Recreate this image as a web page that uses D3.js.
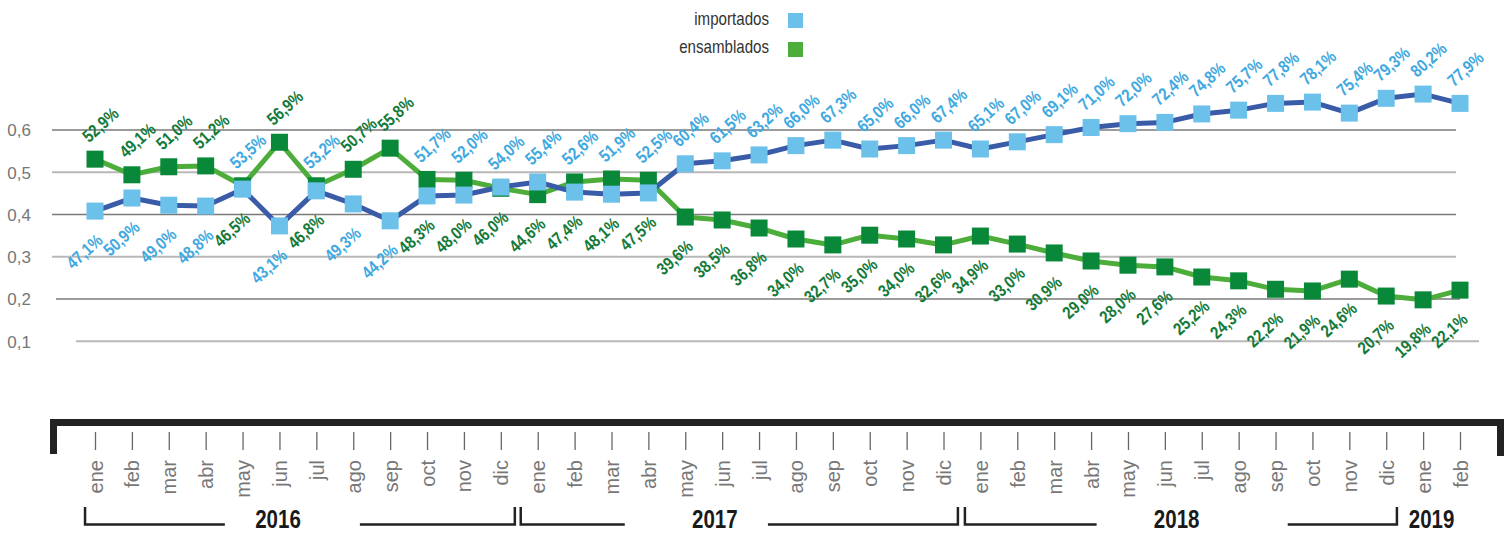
<!DOCTYPE html>
<html>
<head>
<meta charset="utf-8">
<script src="https://cdn.jsdelivr.net/npm/d3@7"></script>
<style>
  html, body { margin: 0; padding: 0; background: #fff; }
  svg { display: block; }
</style>
</head>
<body>
<svg id="chart" width="1506" height="533"></svg>
<script>
// ---------- DATA ----------
const monthNames = ["ene","feb","mar","abr","may","jun","jul","ago","sep","oct","nov","dic"];
const years = ["2016","2017","2018","2019"];
const monthsPerYear = [12, 12, 12, 2];

const seriesNames = ["importados", "ensamblados"];

// plotted values (as drawn on the chart)
const importadosValues = [0.408,0.439,0.422,0.420,0.460,0.373,0.456,0.425,0.385,0.444,0.446,0.465,
                          0.477,0.453,0.448,0.451,0.520,0.527,0.541,0.563,0.576,0.555,0.563,0.576,
                          0.555,0.572,0.589,0.606,0.615,0.618,0.638,0.647,0.663,0.666,0.640,0.675,
                          0.685,0.663];
const ensambladosValues = [0.531,0.494,0.513,0.515,0.468,0.571,0.468,0.507,0.557,0.483,0.481,0.462,
                           0.447,0.477,0.484,0.481,0.394,0.387,0.368,0.342,0.328,0.351,0.342,0.328,
                           0.349,0.330,0.309,0.290,0.280,0.276,0.252,0.243,0.223,0.219,0.247,0.207,
                           0.198,0.221];

// data labels (percent shares)
const importadosLabels = [47.1,50.9,49.0,48.8,53.5,43.1,53.2,49.3,44.2,51.7,52.0,54.0,
                          55.4,52.6,51.9,52.5,60.4,61.5,63.2,66.0,67.3,65.0,66.0,67.4,
                          65.1,67.0,69.1,71.0,72.0,72.4,74.8,75.7,77.8,78.1,75.4,79.3,
                          80.2,77.9];
const ensambladosLabels = [52.9,49.1,51.0,51.2,46.5,56.9,46.8,50.7,55.8,48.3,48.0,46.0,
                           44.6,47.4,48.1,47.5,39.6,38.5,36.8,34.0,32.7,35.0,34.0,32.6,
                           34.9,33.0,30.9,29.0,28.0,27.6,25.2,24.3,22.2,21.9,24.6,20.7,
                           19.8,22.1];

const yTicks = [0.1, 0.2, 0.3, 0.4, 0.5, 0.6];

// ---------- BUILD TABLE ----------
const rows = [];
years.forEach((yr, yi) => {
  for (let m = 0; m < monthsPerYear[yi]; m++) {
    rows.push({ year: yr, month: monthNames[m] });
  }
});
rows.forEach((r, i) => {
  r.i = i;
  r.imp = importadosValues[i];
  r.ens = ensambladosValues[i];
  r.impLab = importadosLabels[i];
  r.ensLab = ensambladosLabels[i];
});

// ---------- STYLE ----------
const C = {
  impLine: "#3A5CA8", impMark: "#6CC1EB", impText: "#3FA9E0",
  ensLine: "#4CAD3A", ensMark: "#0A883A", ensText: "#137A3A",
  gridDark: "#7a7a7a", gridLight: "#b8b8b8", axisText: "#777"
};
const sans = "'Liberation Sans',Arial,sans-serif";
const svg = d3.select("#chart");

const x = d3.scalePoint().domain(d3.range(rows.length)).range([95, 1460]);
const y = d3.scaleLinear().domain([0, 0.6]).range([383.5, 130]);
const step = x.step();
const xi = v => x(0) + v * step;   // fractional index position

// ---------- GRID ----------
const grid = svg.append("g");
yTicks.forEach(t => {
  const k = Math.round(t * 10);
  const light = k % 2 === 1;
  let x1 = 52, x2 = 1456;
  if (k === 2) { x1 = 56; x2 = 1460; }
  if (k === 1) { x1 = 76; x2 = 1479; }
  grid.append("line")
    .attr("x1", x1).attr("x2", x2)
    .attr("y1", y(t)).attr("y2", y(t))
    .attr("stroke", light ? C.gridLight : C.gridDark)
    .attr("stroke-width", light ? 2 : 1.3);
});
const yAxis = d3.axisLeft(y).tickValues(yTicks).tickSize(0)
  .tickFormat(d => d3.format(".1f")(d).replace(".", ","));
const ya = svg.append("g").attr("transform", "translate(31,0)").call(yAxis);
ya.select(".domain").remove();
ya.selectAll("text").attr("x", 0).attr("dy", "0.35em")
  .style("font-family", sans)
  .style("font-size", "17px").attr("fill", C.axisText);

// ---------- LINES ----------
const lineImp = d3.line().x(d => x(d.i)).y(d => y(d.imp));
const lineEns = d3.line().x(d => x(d.i)).y(d => y(d.ens));
svg.append("path").datum(rows).attr("d", lineEns)
  .attr("fill", "none").attr("stroke", C.ensLine).attr("stroke-width", 5).attr("stroke-linejoin", "round");
svg.append("path").datum(rows).attr("d", lineImp)
  .attr("fill", "none").attr("stroke", C.impLine).attr("stroke-width", 5).attr("stroke-linejoin", "round");

const ms = 17;
svg.append("g").selectAll("rect").data(rows).join("rect")
  .attr("x", d => x(d.i) - ms / 2).attr("y", d => y(d.ens) - ms / 2)
  .attr("width", ms).attr("height", ms).attr("fill", C.ensMark);
svg.append("g").selectAll("rect").data(rows).join("rect")
  .attr("x", d => x(d.i) - ms / 2).attr("y", d => y(d.imp) - ms / 2)
  .attr("width", ms).attr("height", ms).attr("fill", C.impMark);

// ---------- DATA LABELS ----------
const fmtPct = v => d3.format(".1f")(v).replace(".", ",") + "%";
const angle = -42;
function addLabels(labKey, color, aboveTest) {
  svg.append("g").selectAll("text").data(rows).join("text")
    .attr("transform", d => {
      const above = aboveTest(d[labKey]);
      const top = Math.min(y(d.imp), y(d.ens));
      const bot = Math.max(y(d.imp), y(d.ens));
      const px = above ? x(d.i) - 6 : x(d.i) + 9;
      const py = above ? top - 16 : bot + 31;
      return `translate(${px},${py}) rotate(${angle}) scale(0.84,1)`;
    })
    .attr("text-anchor", d => aboveTest(d[labKey]) ? "start" : "end")
    .style("font-family", sans)
    .style("font-size", "17.5px")
    .style("font-weight", "bold")
    .attr("fill", color)
    .text(d => fmtPct(d[labKey]));
}
addLabels("impLab", C.impText, v => v > 51);
addLabels("ensLab", C.ensText, v => v > 49);

// ---------- LEGEND ----------
const legend = svg.append("g");
[[seriesNames[0], C.impMark, 25, 13], [seriesNames[1], C.ensLine, 53, 42]].forEach(([name, col, ty, ry]) => {
  legend.append("text")
    .attr("transform", `translate(769,${ty}) scale(0.84,1)`)
    .attr("text-anchor", "end")
    .style("font-family", sans).style("font-size", "18px").attr("fill", "#333").text(name);
  legend.append("rect").attr("x", 788).attr("y", ry).attr("width", 15).attr("height", 15).attr("fill", col);
});

// ---------- BOTTOM AXIS ----------
const axisG = svg.append("g");
axisG.append("path")
  .attr("d", `M53.5,454 V422.5 H1500.5 V456`)
  .attr("fill", "none").attr("stroke", "#222").attr("stroke-width", 7);

const xAxis = d3.axisBottom(x).tickSize(18).tickFormat(i => rows[i].month);
const xa = svg.append("g").attr("transform", "translate(0,432)").call(xAxis);
xa.select(".domain").remove();
xa.selectAll(".tick line").attr("stroke", "#666").attr("stroke-width", 1.3);
xa.selectAll(".tick text")
  .attr("transform", "rotate(-90)")
  .attr("x", -28).attr("y", 0).attr("dy", "0.35em")
  .attr("text-anchor", "end")
  .style("font-family", sans)
  .style("font-size", "20px")
  .attr("fill", "#777");

// year brackets (positions in month-index units)
const yearDecor = [
  { left: -0.27, leftEnd: 3.52, text: 4.96, rightStart: 7.18, right: 11.38 },
  { left: 11.54, leftEnd: 14.36, text: 16.8, rightStart: 18.24, right: 23.39 },
  { left: 23.58, leftEnd: 27.15, text: 29.32, rightStart: 32.33, right: 35.29 },
  { left: null, leftEnd: null, text: 36.23, rightStart: null, right: null }
];
const yg = svg.append("g");
yearDecor.forEach((d, k) => {
  if (d.left !== null) {
    yg.append("path")
      .attr("d", `M${xi(d.left)},507 V524.5 H${xi(d.leftEnd)}`)
      .attr("fill", "none").attr("stroke", "#222").attr("stroke-width", 2.5);
    yg.append("path")
      .attr("d", `M${xi(d.rightStart)},524.5 H${xi(d.right)} V507`)
      .attr("fill", "none").attr("stroke", "#222").attr("stroke-width", 2.5);
  }
  yg.append("text")
    .attr("transform", `translate(${xi(d.text)},527.5) scale(0.82,1)`)
    .attr("text-anchor", "middle")
    .style("font-family", sans).style("font-size", "25px").style("font-weight", "bold")
    .attr("fill", "#1a1a1a")
    .text(years[k]);
});
</script>
</body>
</html>
